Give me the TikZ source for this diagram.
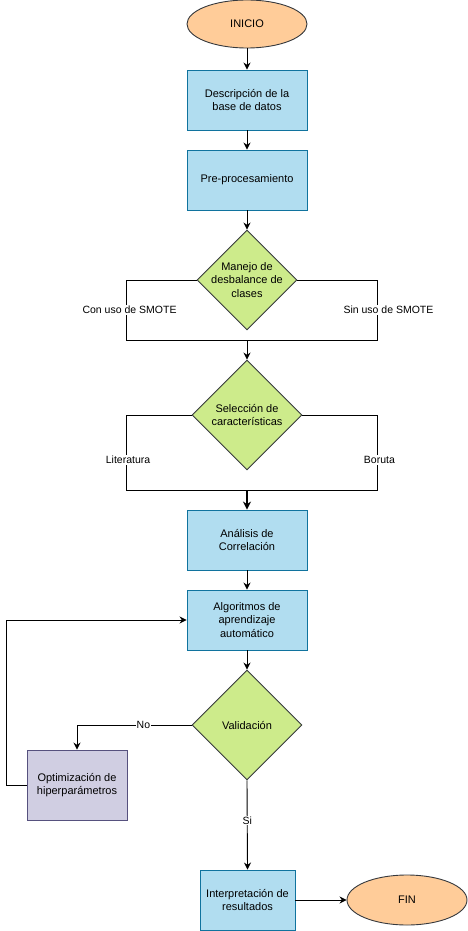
\documentclass[tikz,border=0pt]{standalone}
\usepackage{fontspec}
\setmainfont{Liberation Sans}
\usetikzlibrary{shapes.geometric,arrows.meta}

\definecolor{boxfill}{HTML}{B1DDF0}
\definecolor{boxline}{HTML}{10739E}
\definecolor{decfill}{HTML}{CDEB8B}
\definecolor{darkline}{HTML}{36393D}
\definecolor{termfill}{HTML}{FFCC99}
\definecolor{optfill}{HTML}{D0CEE2}
\definecolor{optline}{HTML}{56517E}

\begin{document}
\begin{tikzpicture}[x=1pt,y=-1pt,
  every node/.style={font=\fontsize{11}{13.5}\selectfont, align=center, inner sep=0pt},
  procbox/.style={draw=boxline, fill=boxfill, line width=0.9pt, minimum width=120pt, minimum height=60pt},
  decision/.style={draw=darkline, fill=decfill, line width=0.9pt, diamond, shape aspect=1},
  terminal/.style={draw=darkline, fill=termfill, line width=0.9pt, ellipse, minimum width=120pt, minimum height=48pt},
  optbox/.style={draw=optline, fill=optfill, line width=0.9pt, minimum width=100pt, minimum height=70pt},
  flow/.style={line width=0.9pt, -{Stealth[length=7pt,width=7pt]}},
  branch/.style={line width=0.9pt},
  lbl/.style={fill=white, inner sep=1pt, font=\fontsize{10.5}{12}\selectfont}
]
\useasboundingbox (0,0) rectangle (468,931);

% main column
\node[terminal] (inicio) at (247,24) {INICIO};
\node[procbox] (desc) at (247,100) {Descripción de la\\base de datos};
\node[procbox] (prep) at (247,180) {Pre-procesamiento};

% imbalance handling decision
\node[decision, minimum width=100pt, minimum height=100pt] (dbal) at (247,280) {};
\node (dbalt) at (dbal.center) {Manejo de\\desbalance de\\clases};
\coordinate (jbal) at (247,340);

% feature selection decision
\node[decision, minimum width=110pt, minimum height=110pt] (dsel) at (247,415) {};
\node (dselt) at (dsel.center) {Selección de\\características};
\coordinate (jsel) at (247,490);

\node[procbox] (corr) at (247,540) {Análisis de\\Correlación};
\node[procbox] (algo) at (247,620) {Algoritmos de\\aprendizaje\\automático};

\node[decision, minimum width=110pt, minimum height=110pt] (val) at (247,725) {};
\node (valt) at (val.center) {Validación};

\node[optbox] (opt) at (77,785) {Optimización de\\hiperparámetros};

\node[procbox, minimum width=95pt] (interp) at (247.5,900) {Interpretación de\\resultados};
\node[terminal, minimum height=50pt] (fin) at (407,900) {FIN};

% connectors
\draw[flow] (inicio) -- (desc);
\draw[flow] (desc) -- (prep);
\draw[flow] (prep) -- (dbal);

\draw[branch] (dbal.west) -- ++(-70,0) |- node[pos=0.25, lbl, xshift=3pt] {Con uso de SMOTE} (jbal);
\draw[branch] (dbal.east) -- ++(80,0) |- node[pos=0.25, lbl, xshift=11pt] {Sin uso de SMOTE} (jbal);
\draw[flow] (jbal) -- (dsel);

\draw[branch] (dsel.west) -- ++(-65,0) |- node[pos=0.3, lbl, xshift=1.5pt] {Literatura} (jsel);
\draw[branch] (dsel.east) -- ++(75,0) |- node[pos=0.3, lbl, xshift=2pt] {Boruta} (jsel);
\draw[line width=1.6pt, -{Stealth[length=8pt,width=8pt]}] (jsel) -- (corr);

\draw[flow] (corr) -- (algo);
\draw[flow] (algo) -- (val);

\draw[flow] (val.west) -| node[pos=0.21, lbl] {No} (opt.north);
\draw[flow] (opt.west) -- ++(-20,0) |- (algo.west);

\draw[flow] (val.south) -- node[pos=0.45, lbl] {Si} (interp.north);
\draw[flow] (interp.east) -- (fin.west);

\end{tikzpicture}
\end{document}
